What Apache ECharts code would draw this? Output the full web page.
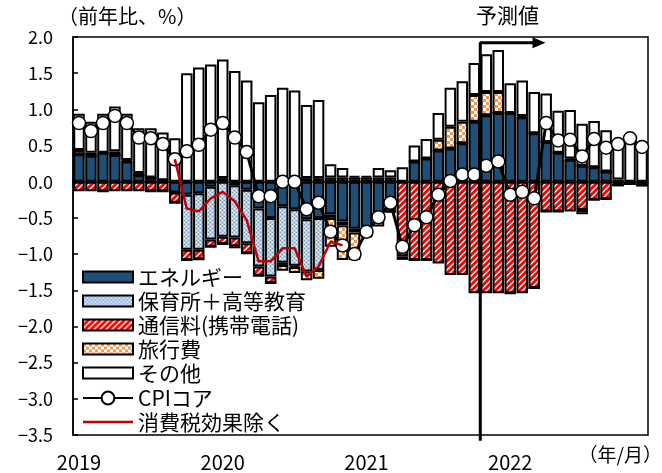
<!DOCTYPE html>
<html>
<head>
<meta charset="utf-8">
<script src="https://cdn.jsdelivr.net/npm/echarts@6/dist/echarts.min.js"></script>
<style>
html, body { margin: 0; padding: 0; background: #fff; }
#main { width: 662px; height: 473px; }
</style>
</head>
<body>
<div id="main"></div>
<script>
// 年ラベル（1月の位置に表示）
var years = ['2019', '2020', '2021', '2022'];
var months = [];
years.forEach(function (y) {
    for (var m = 1; m <= 12; m++) months.push(y + '/' + m);
});

// 寄与度（%ポイント）
var energy = [0.38, 0.36, 0.40, 0.37, 0.28, 0.09, 0.06, 0.02, -0.15, -0.18, -0.16, -0.07,
    0.05, -0.05, -0.11, -0.37, -0.50, -0.34, -0.38, -0.52, -0.50, -0.45, -0.55, -0.65,
    -0.66, -0.52, -0.35, 0.00, 0.28, 0.32, 0.43, 0.46, 0.53, 0.83, 0.92, 0.95,
    0.95, 0.89, 0.67, 0.55, 0.40, 0.30, 0.22, 0.20, 0.14, -0.05, -0.03, -0.05];
var education = [0, 0, 0, 0, 0, 0, 0, 0, 0, -0.76, -0.78, -0.73,
    -0.76, -0.72, -0.74, -0.80, -0.81, -0.78, -0.78, -0.72, -0.72, -0.05, -0.05, -0.05,
    -0.03, -0.03, -0.03, 0, 0, 0, 0, 0, 0, 0, 0, 0,
    0, 0, 0, 0, 0, 0, 0, 0, 0, 0, 0, 0];
var mobile = [-0.13, -0.13, -0.13, -0.13, -0.13, -0.13, -0.13, -0.13, -0.14, -0.14, -0.13, -0.10,
    -0.10, -0.12, -0.14, -0.13, -0.09, -0.03, -0.02, 0.05, 0.05, 0.06, 0.06, 0.06,
    0.06, 0.06, 0.06, -1.03, -1.08, -1.08, -1.13, -1.29, -1.29, -1.54, -1.54, -1.54,
    -1.54, -1.54, -1.47, -0.41, -0.41, -0.41, -0.39, -0.25, -0.24, 0, 0, 0];
var travel = [0.06, 0.04, 0, 0.05, 0.02, 0.03, 0, 0, 0, 0, 0, 0,
    0, -0.03, 0, 0, 0, -0.08, -0.08, -0.12, -0.12, -0.40, -0.48, -0.38,
    -0.08, -0.07, -0.05, -0.05, 0, 0, 0.15, 0.30, 0.30, 0.37, 0.32, 0.29,
    0, 0.02, 0, 0, 0, 0.02, -0.06, 0, 0, 0.03, 0, 0];
var other = [0.50, 0.43, 0.54, 0.62, 0.64, 0.62, 0.68, 0.66, 0.60, 1.50, 1.58, 1.62,
    1.64, 1.53, 1.40, 1.10, 1.20, 1.30, 1.26, 1.01, 1.08, 0.18, 0.13, 0.02,
    0.02, 0.13, 0.10, 0.20, 0.22, 0.27, 0.37, 0.54, 0.56, 0.44, 0.52, 0.58,
    0.41, 0.49, 0.57, 0.67, 0.58, 0.67, 0.58, 0.64, 0.57, 0.54, 0.63, 0.53];
var cpiCore = [0.81, 0.70, 0.81, 0.91, 0.81, 0.61, 0.60, 0.52, 0.31, 0.42, 0.51, 0.72,
    0.81, 0.61, 0.41, -0.20, -0.20, 0.00, 0.00, -0.38, -0.29, -0.69, -0.88, -1.00,
    -0.69, -0.49, -0.29, -0.90, -0.60, -0.49, -0.18, 0.01, 0.10, 0.10, 0.22, 0.28,
    -0.18, -0.14, -0.23, 0.81, 0.57, 0.58, 0.35, 0.59, 0.47, 0.52, 0.60, 0.48];
var exTax = [null, null, null, null, null, null, null, null, 0.31, -0.37, -0.41, -0.23,
    -0.14, -0.27, -0.53, -1.10, -1.10, -0.92, -0.92, -1.31, -1.17, -0.83, -0.88, null,
    null, null, null, null, null, null, null, null, null, null, null, null,
    null, null, null, null, null, null, null, null, null, null, null, null];

// 予測値の開始位置（2021年11月）と矢印
var forecastStart = 34;
var arrowEnd = 38.9;
var arrowLevel = 1.92;

function makePattern(w, h, draw) {
    var c = document.createElement('canvas');
    c.width = w; c.height = h;
    draw(c.getContext('2d'));
    return { image: c, repeat: 'repeat' };
}

var bluePattern = makePattern(4, 4, function (ctx) {
    ctx.fillStyle = '#B3CBEC'; ctx.fillRect(0, 0, 4, 4);
    ctx.fillStyle = '#6F9AD6'; ctx.fillRect(0, 0, 1, 1); ctx.fillRect(2, 2, 1, 1);
    ctx.fillStyle = '#ffffff'; ctx.fillRect(2, 0, 1, 1); ctx.fillRect(0, 2, 1, 1);
});
var redPattern = makePattern(6, 6, function (ctx) {
    ctx.fillStyle = '#ffffff'; ctx.fillRect(0, 0, 6, 6);
    ctx.strokeStyle = '#FF0000'; ctx.lineWidth = 3;
    ctx.beginPath();
    ctx.moveTo(-1, 7); ctx.lineTo(7, -1);
    ctx.moveTo(-2, 2); ctx.lineTo(2, -2);
    ctx.moveTo(4, 8); ctx.lineTo(8, 4);
    ctx.stroke();
});
var orangePattern = makePattern(6, 6, function (ctx) {
    ctx.fillStyle = '#ffffff'; ctx.fillRect(0, 0, 6, 6);
    ctx.fillStyle = '#F79646'; ctx.fillRect(0, 0, 3, 3); ctx.fillRect(3, 3, 3, 3);
});

var FONT = 'Noto Sans CJK JP';

function barSeries(name, data, color) {
    return {
        name: name,
        type: 'bar',
        stack: 'total',
        data: data,
        barCategoryGap: '4%',
        itemStyle: { color: color, borderColor: '#000', borderWidth: 2 },
        emphasis: { disabled: true }
    };
}

var legendText = { fontSize: 21, color: '#000', lineHeight: 22, fontFamily: FONT };

var myChart = echarts.init(document.getElementById('main'));

myChart.setOption({
    animation: false,
    textStyle: { fontFamily: FONT },
    grid: { left: 73, right: 14, top: 37, bottom: 38, show: true, borderColor: '#000', borderWidth: 1.5 },
    legend: [{
        orient: 'vertical',
        left: 82,
        top: 266,
        itemWidth: 50,
        itemHeight: 11,
        itemGap: 2,
        selectedMode: false,
        padding: 0,
        icon: 'rect',
        textStyle: legendText,
        data: ['エネルギー', '保育所＋高等教育', '通信料(携帯電話)', '旅行費', 'その他']
    }, {
        orient: 'vertical',
        left: 82,
        top: 387,
        itemWidth: 50,
        itemHeight: 16,
        itemGap: 2,
        selectedMode: false,
        padding: 0,
        textStyle: legendText,
        data: [
            { name: 'CPIコア' },
            { name: '消費税効果除く', icon: 'path://M0,0H50V2.6H0Z' }
        ]
    }],
    xAxis: [{
        type: 'category',
        data: months,
        axisLine: { lineStyle: { color: '#000', width: 1.5 } },
        axisTick: { show: false },
        axisLabel: {
            interval: 0,
            color: '#000',
            fontSize: 20,
            margin: 17,
            formatter: function (v) {
                var p = v.split('/');
                return p[1] === '1' ? p[0] : '';
            }
        }
    }, {
        type: 'value',
        min: 0,
        max: 48,
        show: false
    }],
    yAxis: {
        type: 'value',
        min: -3.5,
        max: 2.0,
        interval: 0.5,
        splitLine: { show: false },
        axisLine: { show: true, lineStyle: { color: '#000', width: 1.5 } },
        axisTick: { show: true, inside: true, length: 5, lineStyle: { color: '#000', width: 1.5 } },
        axisLabel: {
            color: '#000',
            fontSize: 18,
            margin: 20,
            formatter: function (v) { return v.toFixed(1).replace('-', '−'); }
        }
    },
    series: [
        barSeries('エネルギー', energy, '#1F4E79'),
        barSeries('保育所＋高等教育', education, bluePattern),
        barSeries('通信料(携帯電話)', mobile, redPattern),
        barSeries('旅行費', travel, orangePattern),
        barSeries('その他', other, '#ffffff'),
        {
            name: 'CPIコア',
            type: 'line',
            data: cpiCore,
            symbol: 'circle',
            symbolSize: 13,
            lineStyle: { color: '#000', width: 3 },
            itemStyle: { color: '#fff', borderColor: '#000', borderWidth: 1.5 },
            z: 3,
            emphasis: { disabled: true }
        },
        {
            name: '消費税効果除く',
            type: 'line',
            data: exTax,
            symbol: 'none',
            lineStyle: { color: '#C00000', width: 2.5 },
            itemStyle: { color: '#C00000' },
            z: 4,
            emphasis: { disabled: true }
        },
        {
            name: '予測値',
            type: 'line',
            xAxisIndex: 1,
            clip: false,
            symbol: 'none',
            lineStyle: { color: '#000', width: 3 },
            itemStyle: { color: '#000' },
            z: 5,
            data: [
                [forecastStart, -3.58],
                [forecastStart, arrowLevel],
                { value: [arrowEnd, arrowLevel], symbol: 'triangle', symbolSize: [11, 13], symbolRotate: -90 }
            ]
        }
    ],
    graphic: [
        { type: 'text', left: 58, top: 6, style: { text: '（前年比、%）', fontSize: 20, fontFamily: FONT, fill: '#000' } },
        { type: 'text', left: 476, top: 5, style: { text: '予測値', fontSize: 21, fontFamily: FONT, fill: '#000' } },
        { type: 'text', right: 0, top: 445, style: { text: '（年/月）', fontSize: 19, fontFamily: FONT, fill: '#000' } }
    ]
});
</script>
</body>
</html>
